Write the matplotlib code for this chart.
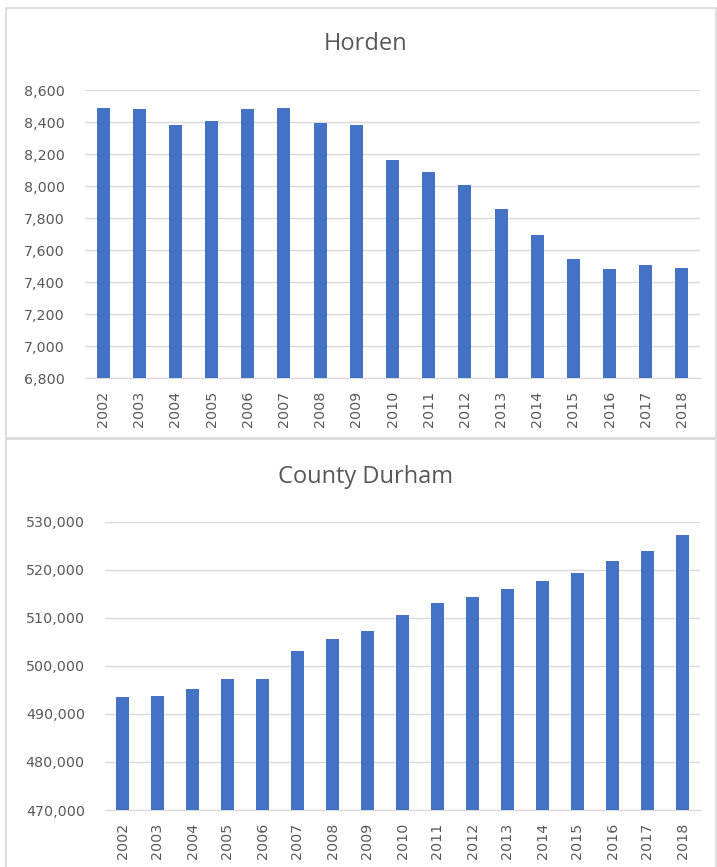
import matplotlib.pyplot as plt
from matplotlib.patches import Rectangle
from matplotlib.ticker import FuncFormatter

# population by year
years = [str(y) for y in range(2002, 2019)]
horden = [8490, 8480, 8380, 8405, 8480, 8490, 8395, 8380, 8165,
          8090, 8005, 7855, 7695, 7545, 7480, 7505, 7490]
durham = [493450, 493800, 495100, 497200, 497200, 503000, 505500, 507200,
          510500, 513000, 514250, 515900, 517600, 519250, 521750, 523900,
          527150]

bar_color = '#4472C4'
grid_color = '#D9D9D9'
text_color = '#595959'

plt.rcParams['font.family'] = ['Open Sans', 'DejaVu Sans']

W, H = 717, 867
fig = plt.figure(figsize=(W / 100, H / 100), dpi=100)


def px_box(x0, y0, x1, y1):
    # pixel box (top-left origin) -> figure fraction rect
    return [x0 / W, 1 - y1 / H, (x1 - x0) / W, (y1 - y0) / H]


# panel frames
for (x0, y0, x1, y1) in [(6, 8, 716, 438), (6, 439, 716, 880)]:
    fig.patches.append(Rectangle((x0 / W, 1 - y1 / H), (x1 - x0) / W,
                                 (y1 - y0) / H, transform=fig.transFigure,
                                 facecolor='none', edgecolor=grid_color,
                                 lw=1.2, zorder=-1))


def draw_panel(rect, values, ylo, yhi, step, title, title_y):
    ax = fig.add_axes(rect)
    x = range(len(years))
    ax.bar(x, values, width=0.36, color=bar_color, zorder=3)
    ax.set_xlim(-0.5, len(years) - 0.5)
    ax.set_ylim(ylo, yhi)
    ax.set_yticks(range(ylo, yhi + 1, step))
    ax.yaxis.set_major_formatter(FuncFormatter(lambda v, p: f'{int(v):,}'))
    ax.set_xticks(list(x))
    ax.set_xticklabels(years, rotation=90)
    ax.grid(axis='y', color=grid_color, lw=1, zorder=0)
    ax.set_axisbelow(True)
    ax.set_facecolor('none')
    for s in ['top', 'right', 'left']:
        ax.spines[s].set_visible(False)
    ax.spines['bottom'].set_color(grid_color)
    ax.tick_params(axis='y', length=0, pad=14.5, labelcolor=text_color)
    ax.tick_params(axis='x', length=0, pad=9, labelcolor=text_color)
    for lbl in ax.get_xticklabels() + ax.get_yticklabels():
        lbl.set_family('DejaVu Sans')
        lbl.set_fontsize(10.3)
    fig.text(366 / W, 1 - title_y / H, title, ha='center', va='center',
             fontsize=17, color=text_color)
    return ax


draw_panel(px_box(85, 90, 700, 378), horden, 6800, 8600, 200,
           'Horden', 44)
draw_panel(px_box(105, 521.7, 700, 810), durham, 470000, 530000, 10000,
           'County Durham', 477)

fig.savefig('out.png', dpi=100)
